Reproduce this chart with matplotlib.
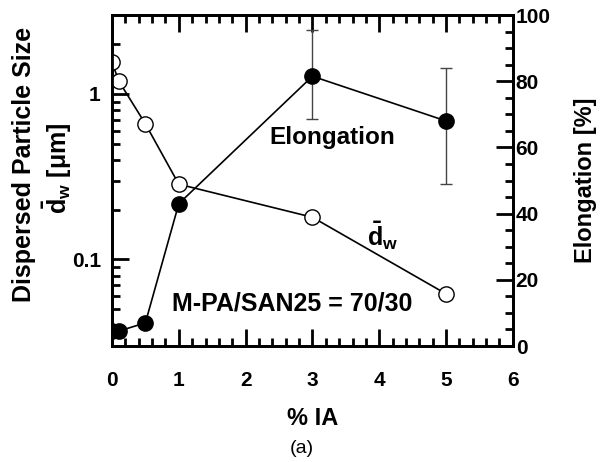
import numpy as np
import matplotlib
matplotlib.use("Agg")
import matplotlib.pyplot as plt
from matplotlib.ticker import MultipleLocator, LogLocator, FixedLocator, NullFormatter

plt.rcParams['font.family'] = ['Liberation Sans', 'DejaVu Sans']
plt.rcParams['font.weight'] = 'bold'
plt.rcParams['mathtext.fontset'] = 'custom'
plt.rcParams['mathtext.rm'] = 'Liberation Sans:bold'
plt.rcParams['mathtext.bf'] = 'Liberation Sans:bold'
plt.rcParams['mathtext.it'] = 'Liberation Sans:bold'

# data
ia = [0, 0.1, 0.5, 1, 3, 5]                       # % IA
d_w = [1.56, 1.2, 0.66, 0.285, 0.18, 0.062]       # particle size [um]
elong = [4.5, 4.5, 7, 43, 81.5, 68]               # elongation [%]
err_lo = [0, 0, 0, 0, 13, 19]
err_hi = [0, 0, 0, 0, 14, 16]

fig = plt.figure(figsize=(6.04, 4.62), dpi=100)
ax = fig.add_axes([0.1854, 0.251, 0.6637, 0.7165])
ax2 = ax.twinx()

# d_w, open circles, log axis
ax.plot(ia, d_w, '-', color='black', lw=1.2, marker='o', ms=11,
        mfc='white', mec='black', mew=1.0, zorder=3)
ax.set_yscale('log')
ax.set_ylim(0.03, 3)
ax.set_xlim(0, 6)

# elongation, filled circles with error bars
ax2.plot(ia, elong, '-', color='black', lw=1.2, marker='o', ms=11,
         mfc='black', mec='black', zorder=3)
idx = [4, 5]
ax2.errorbar([ia[i] for i in idx], [elong[i] for i in idx],
             yerr=[[err_lo[i] for i in idx], [err_hi[i] for i in idx]],
             fmt='none', ecolor='#444444', elinewidth=1.0, capsize=4, capthick=1.0)
ax2.set_ylim(0, 100)

# ticks
ax.xaxis.set_major_locator(MultipleLocator(1))
ax.xaxis.set_minor_locator(MultipleLocator(0.2))
ax.yaxis.set_major_locator(FixedLocator([0.1, 1]))
ax.yaxis.set_minor_locator(LogLocator(base=10, subs=np.arange(2, 10)))
ax.yaxis.set_minor_formatter(NullFormatter())
ax.set_yticklabels(['0.1', '1'])
ax.tick_params(axis='x', which='both', direction='in', top=True, bottom=True,
               labelsize=15, pad=18)
ax.tick_params(axis='y', which='both', direction='in', left=True, right=False,
               labelsize=15, pad=8)
ax.tick_params(which='major', length=12, width=2)
ax.tick_params(which='minor', length=6, width=2)

ax2.yaxis.set_major_locator(MultipleLocator(20))
ax2.yaxis.set_minor_locator(MultipleLocator(5))
ax2.tick_params(axis='y', which='both', direction='in', labelsize=15, pad=2)
ax2.tick_params(which='major', length=12, width=2)
ax2.tick_params(which='minor', length=6, width=2)

for s in ax.spines.values():
    s.set_linewidth(2)
for s in ax2.spines.values():
    s.set_linewidth(2)

ax.set_xlabel('% IA', fontsize=17, fontweight='bold', labelpad=12)
ax2.set_ylabel('Elongation [%]', fontsize=17, fontweight='bold', labelpad=17)

# left axis title, two centred lines
fig.text(24 / 604, 1 - 164 / 462, 'Dispersed Particle Size', fontsize=18,
         fontweight='bold', rotation=90, ha='center', va='center')
fig.text(57 / 604, 1 - 168 / 462, r'$\bar{\mathrm{d}}_{\mathrm{w}}$' + ' [μm]',
         fontsize=18, fontweight='bold', rotation=90, ha='center', va='center')

ax2.text(3.3, 63, 'Elongation', fontsize=17.5, fontweight='bold',
         ha='center', va='center')
ax2.text(2.69, 12.7, 'M-PA/SAN25 = 70/30', fontsize=18, fontweight='bold',
         ha='center', va='center')
ax.text(3.82, 0.14, r'$\bar{\mathrm{d}}_{\mathrm{w}}$', fontsize=18,
        ha='left', va='center')

fig.text(0.5, 0.030, '(a)', fontsize=14, fontweight='normal', ha='center', va='center')

fig.savefig('out.png', dpi=100)
